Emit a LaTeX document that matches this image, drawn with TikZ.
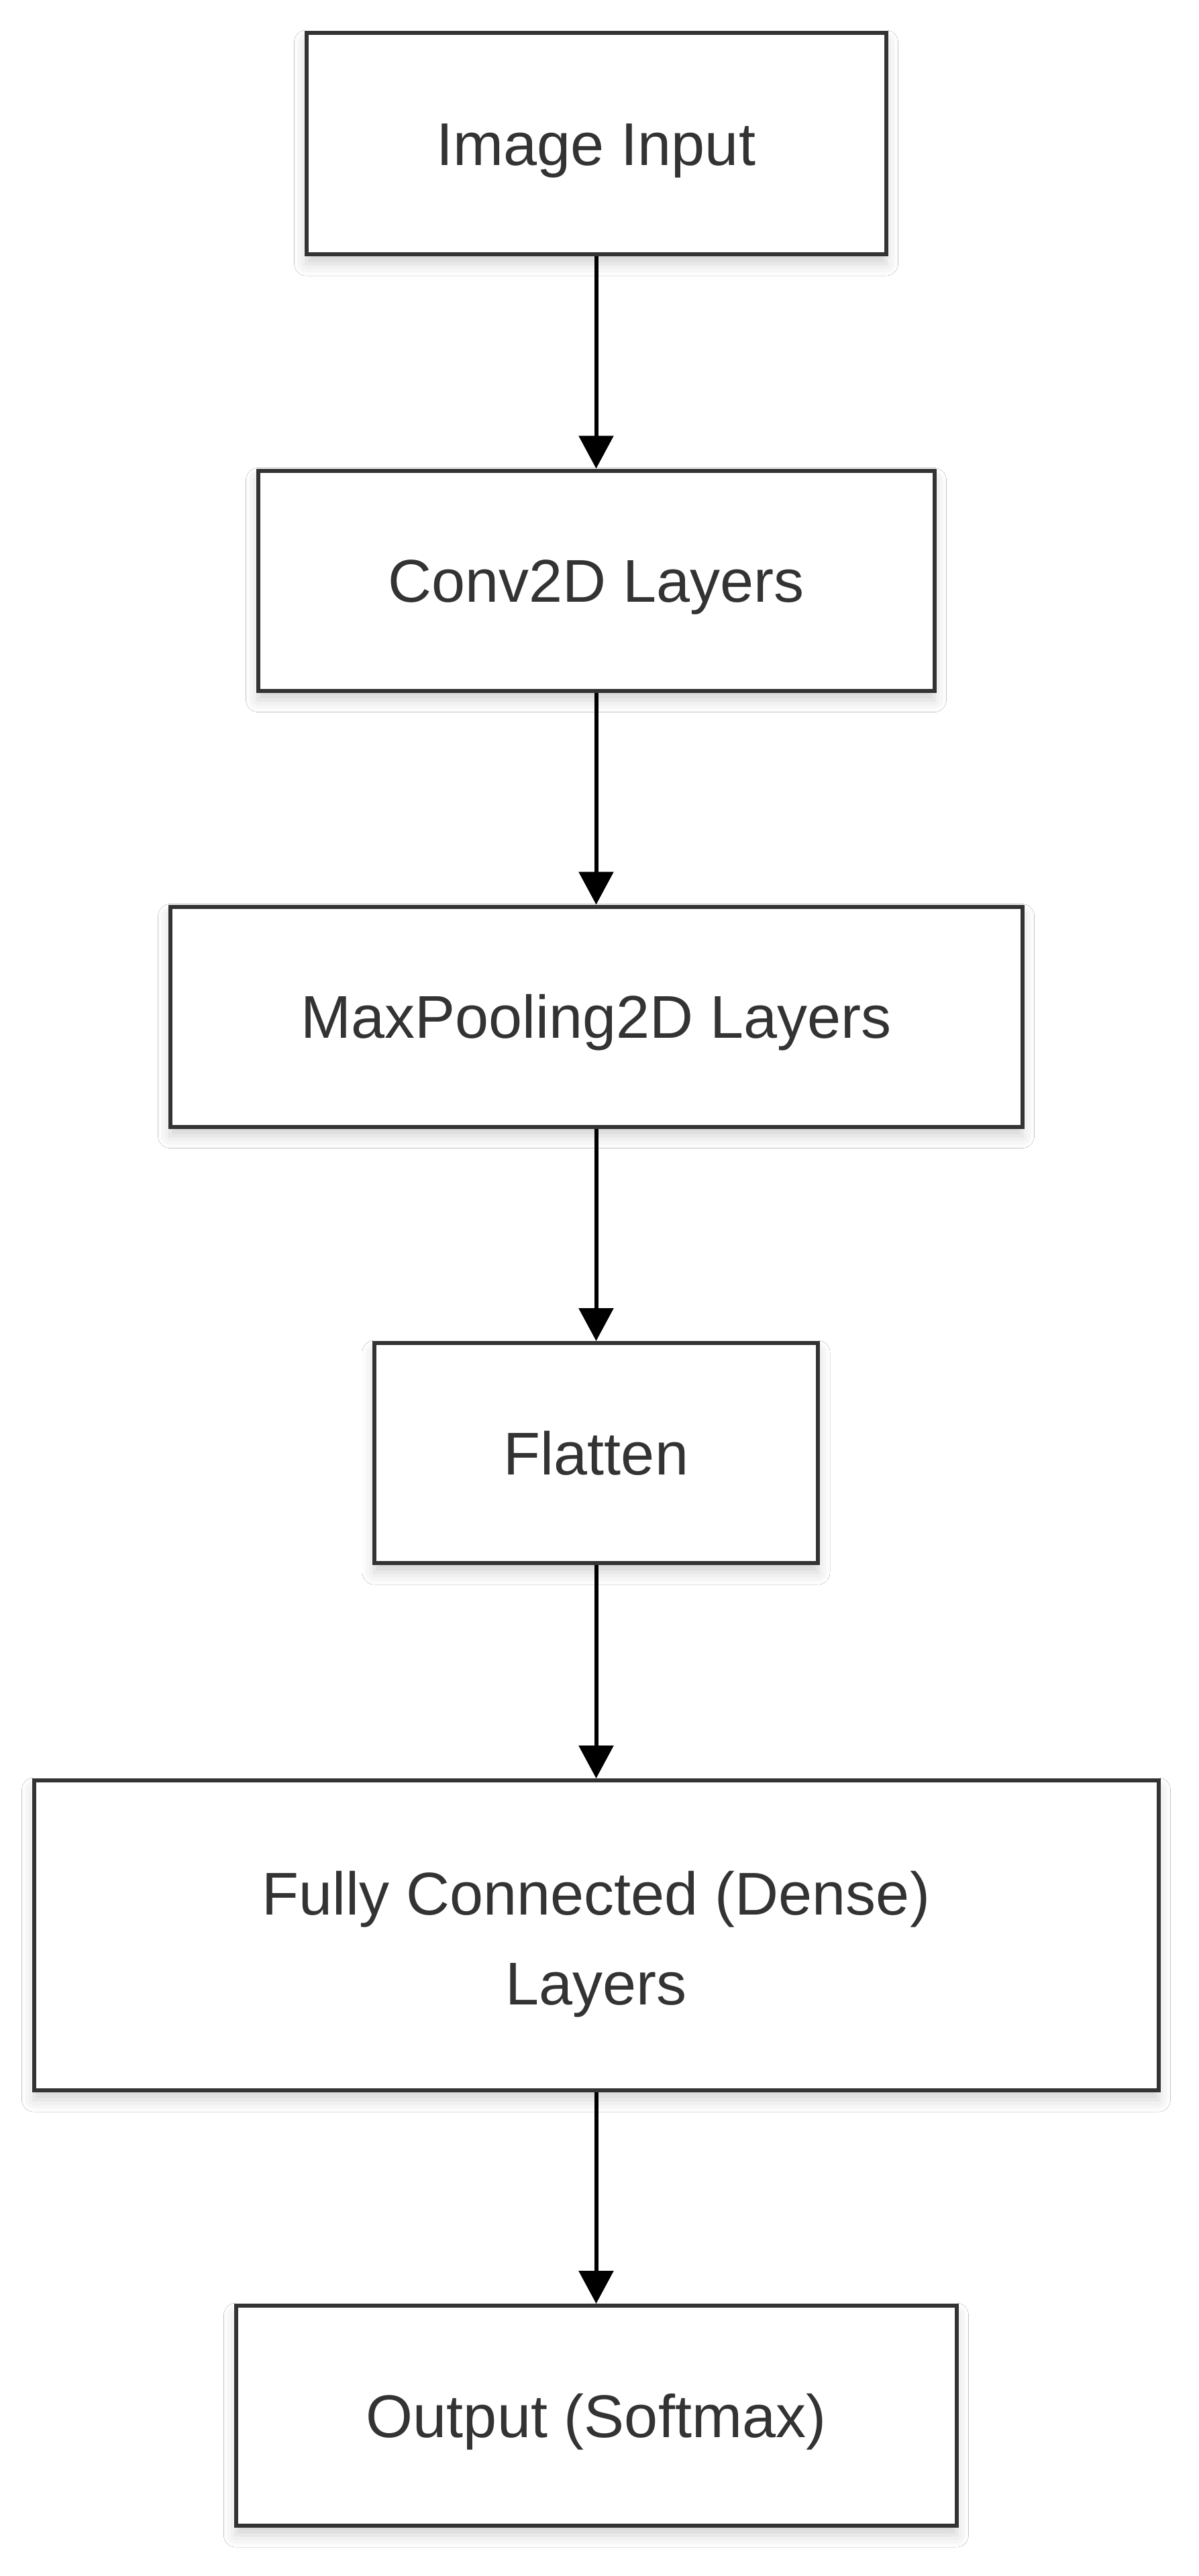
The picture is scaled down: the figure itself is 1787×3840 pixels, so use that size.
\documentclass[tikz,border=0pt]{standalone}
\usepackage{fontspec}
\setmainfont{Liberation Sans}
\usetikzlibrary{arrows.meta,shadows.blur}
\definecolor{boxline}{HTML}{333333}
\definecolor{txt}{HTML}{333333}
\tikzset{
  layerbox/.style={draw=boxline, line width=3pt, fill=white, inner sep=0pt,
    minimum height=164pt, text=txt, align=center,
    font=\fontsize{45}{67}\selectfont,
    blur shadow={shadow xshift=0pt, shadow yshift=-7pt, shadow opacity=18, shadow blur radius=9pt}},
  oneline/.style={text height=32pt, text depth=0pt},
  flow/.style={draw=black, line width=3pt, -{Triangle[width=25.5pt,length=24.5pt]}}
}
\begin{document}
\begin{tikzpicture}[x=0.5pt,y=-0.5pt]
\fill[white] (0,0) rectangle (1787,3840);
\useasboundingbox (0,0) rectangle (1787,3840);
\node[layerbox, oneline, minimum width=432pt, minimum height=165pt] (b1) at (888.5,214) {Image Input};
\node[layerbox, oneline, minimum width=504pt] (b2) at (888.5,865.5) {Conv2D Layers};
\node[layerbox, oneline, minimum width=635pt] (b3) at (888.5,1515.5) {MaxPooling2D Layers};
\node[layerbox, oneline, minimum width=330.5pt] (b4) at (888.5,2166) {Flatten};
\node[layerbox, minimum width=838pt, minimum height=231pt] (b5) at (888.5,2885) {\raisebox{-5pt}[\height][\depth]{\begin{tabular}{@{}c@{}}Fully Connected (Dense)\\Layers\end{tabular}}};
\node[layerbox, oneline, minimum width=537pt] (b6) at (888.5,3601) {Output (Softmax)};
\draw[flow] (b1.south) -- (b2.north);
\draw[flow] (b2.south) -- (b3.north);
\draw[flow] (b3.south) -- (b4.north);
\draw[flow] (b4.south) -- (b5.north);
\draw[flow] (b5.south) -- (b6.north);
\end{tikzpicture}
\end{document}
